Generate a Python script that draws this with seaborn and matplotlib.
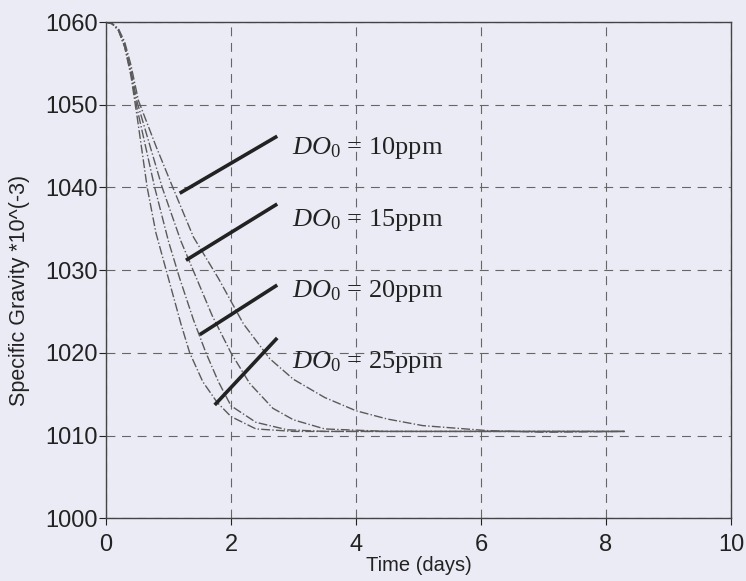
import numpy as np
import pandas as pd
import seaborn as sns
import matplotlib.pyplot as plt

# curves (time in days, specific gravity *10^-3)
t_a = [0, 0.1, 0.2, 0.3, 0.4, 0.5, 0.66, 0.8, 1.0, 1.2, 1.34, 1.55, 1.78, 2.0, 2.4, 3.0, 4.0, 6.0, 8.3]
sg_a = [1060, 1059.8, 1059, 1057, 1053.5, 1048.5, 1040, 1034.5, 1029, 1023.5, 1020, 1016.5, 1014, 1012.3, 1010.8, 1010.5, 1010.5, 1010.5, 1010.5]

t_b = [0, 0.1, 0.2, 0.3, 0.4, 0.5, 0.78, 1.0, 1.18, 1.4, 1.6, 1.8, 2.0, 2.4, 2.9, 3.5, 5.0, 8.3]
sg_b = [1060, 1059.8, 1059, 1057, 1053.8, 1049.5, 1040, 1033.5, 1029, 1024, 1020, 1016.5, 1013.6, 1011.6, 1010.7, 1010.5, 1010.5, 1010.5]

t_c = [0, 0.1, 0.2, 0.3, 0.4, 0.5, 0.9, 1.2, 1.45, 1.7, 2.0, 2.3, 2.67, 3.0, 3.5, 4.5, 6.0, 8.3]
sg_c = [1060, 1059.8, 1059.1, 1057.3, 1054.2, 1050.3, 1040, 1033.5, 1029, 1024.5, 1020, 1016.3, 1013.3, 1011.9, 1010.8, 1010.5, 1010.5, 1010.5]

t_d = [0, 0.1, 0.2, 0.3, 0.4, 0.52, 0.8, 1.07, 1.4, 1.8, 2.2, 2.62, 3.0, 3.5, 4.0, 4.5, 5.07, 6.1, 7.0, 8.3]
sg_d = [1060, 1059.8, 1059.2, 1057.6, 1054.8, 1050.5, 1045, 1040, 1034, 1029, 1023.5, 1019.3, 1016.8, 1014.6, 1013, 1012, 1011.2, 1010.6, 1010.4, 1010.5]

labels = ['$DO_0$ = 10ppm', '$DO_0$ = 15ppm', '$DO_0$ = 20ppm', '$DO_0$ = 25ppm']
label_x = [2.98, 2.98, 2.98, 2.98]
label_y = [1044.8, 1036.1, 1027.5, 1018.9]
# leader lines: start on curve, end near label
lead_x0 = [1.18, 1.28, 1.50, 1.74]
lead_y0 = [1039.3, 1031.2, 1022.2, 1013.7]
lead_x1 = [2.74, 2.74, 2.74, 2.74]
lead_y1 = [1046.2, 1038.0, 1028.2, 1021.8]

frames = []
for name, t, sg in [('a', t_a, sg_a), ('b', t_b, sg_b), ('c', t_c, sg_c), ('d', t_d, sg_d)]:
    frames.append(pd.DataFrame({'t': t, 'sg': sg, 'curve': name}))
df = pd.concat(frames, ignore_index=True)

sns.set_style('ticks')
plt.rcParams['font.family'] = ['Liberation Sans', 'DejaVu Sans']
plt.rcParams['mathtext.fontset'] = 'custom'
plt.rcParams['mathtext.rm'] = 'Liberation Serif'
plt.rcParams['mathtext.it'] = 'Liberation Serif:italic'

bg = '#ebebf5'
fig, ax = plt.subplots(figsize=(7.46, 5.81), dpi=100, facecolor=bg)
ax.set_facecolor(bg)
fig.subplots_adjust(left=0.142, right=0.98, top=0.962, bottom=0.108)

sns.lineplot(data=df, x='t', y='sg', hue='curve', palette=['#5a5a5a'] * 4,
             linewidth=1.0, legend=False, ax=ax, sort=False)
for line in ax.get_lines():
    line.set_linestyle('-.')

for i in range(4):
    ax.plot([lead_x0[i], lead_x1[i]], [lead_y0[i], lead_y1[i]], color='#222222', lw=2.6,
            solid_capstyle='butt')
    ax.text(label_x[i], label_y[i], labels[i], fontsize=19, va='center', ha='left',
            family='Liberation Serif', color='#222222')

ax.set_xlim(0, 10)
ax.set_ylim(1000, 1060)
ax.set_xticks([0, 2, 4, 6, 8, 10])
ax.set_yticks([1000, 1010, 1020, 1030, 1040, 1050, 1060])
ax.grid(True, linestyle=(0, (8, 6)), color='#666666', linewidth=0.8)
ax.tick_params(labelsize=17, colors='#222222', length=5, width=0.8)
ax.tick_params(axis='x', pad=6)
ax.tick_params(axis='y', pad=1)
for s in ax.spines.values():
    s.set_color('#444444')
    s.set_linewidth(1.0)
ax.set_xlabel('Time (days)', fontsize=14.5, color='#222222', labelpad=0)
ax.set_ylabel('Specific Gravity *10^(-3)', fontsize=15.5, color='#222222')
ax.yaxis.set_label_coords(-0.121, 0.46)

plt.savefig('out.png', dpi=100, facecolor=bg)
